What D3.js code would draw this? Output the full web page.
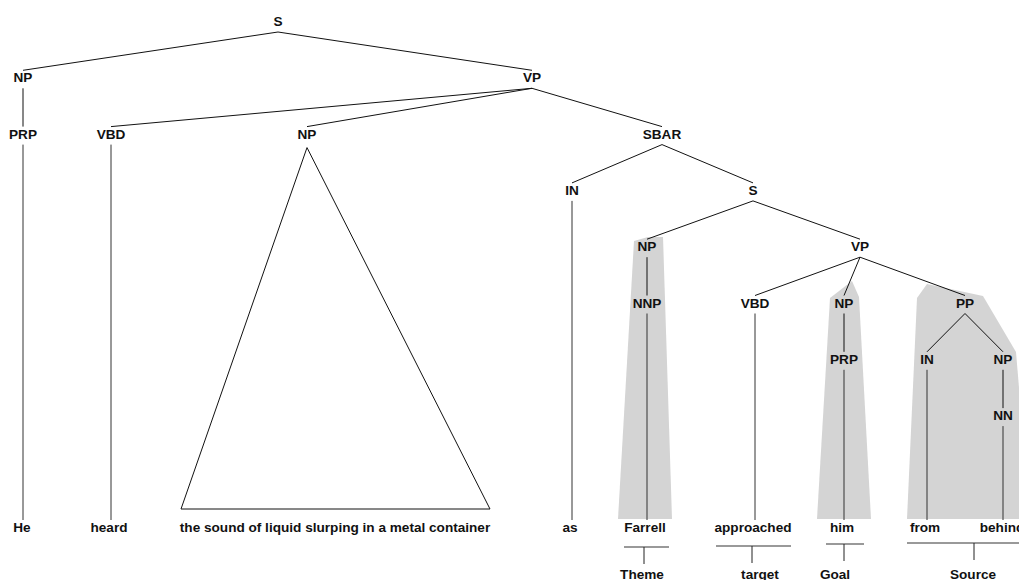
<!DOCTYPE html>
<html>
<head>
<meta charset="utf-8">
<script src="https://cdn.jsdelivr.net/npm/d3@7"></script>
<style>
  body { margin: 0; background: #fff; }
  text { font-family: "Liberation Sans", Arial, Helvetica, sans-serif; font-weight: bold; font-size: 13.6px; fill: #111; }
</style>
</head>
<body>
<script>
const WIDTH = 1019;
const HEIGHT = 580;

// tree nodes: id, label, parent, x position
const nodeIds    = ["s0","np1","vp1","prp1","vbd1","np2","sbar","in1","s2","np3","vp2","nnp","vbd2","np4","pp","prp2","in2","np5","nn"];
const nodeLabels = ["S","NP","VP","PRP","VBD","NP","SBAR","IN","S","NP","VP","NNP","VBD","NP","PP","PRP","IN","NP","NN"];
const nodeParent = ["","s0","s0","np1","vp1","vp1","vp1","sbar","sbar","s2","s2","np3","vp2","vp2","vp2","np4","pp","pp","np5"];
const nodeX      = [278,23,532,23,111,307,662,572,753,647,860,647,755,844,965,844,927,1003,1003];

// words at the bottom, hung from a preterminal (or from the collapsed NP)
const words      = ["He","heard","the sound of liquid slurping in a metal container","as","Farrell","approached","him","from","behind"];
const wordParent = ["prp1","vbd1","np2","in1","nnp","vbd2","prp2","in2","nn"];
const wordX      = [22,109,335,570,645,753,842,925,1002];
const collapsed  = ["np2"];
const triangleBase = [181,490];

// frame element roles under the words
const roles      = ["Theme","target","Goal","Source"];
const roleSpan   = [[624,669],[716,791],[826,864],[907,1019]];
const roleTick   = [644,752,844,974];
const roleTextX  = [642,760,835,973];
const roleLineY  = [547,546,544,543];

// grey highlighted constituents (outline points)
const shades = [
  [[634,241],[648,237],[663,237],[672,519],[618,519]],
  [[830,298],[852,281],[859,297],[871,519],[817,519]],
  [[907,519],[917,298],[927,284],[983,296],[1016,352],[1030,519]]
];

const yLevel = d3.scaleLinear().domain([0, 1]).range([21, 77.3]);
const LEAF_Y = 527;
const LEAF_LINE_END = 520;
const BASE_Y = 509;

const svg = d3.select("body").append("svg")
    .attr("width", WIDTH)
    .attr("height", HEIGHT);

const table = nodeIds.map((id, i) => ({id: id, label: nodeLabels[i], parent: nodeParent[i], x: nodeX[i]}));
const root = d3.stratify().id(d => d.id).parentId(d => d.parent || null)(table);
root.each(n => { n.px = n.data.x; n.py = yLevel(n.depth); });
const byId = new Map(root.descendants().map(n => [n.id, n]));

// shading
svg.append("g").selectAll("path")
    .data(shades)
    .join("path")
    .attr("d", d => d3.line()(d) + "Z")
    .attr("fill", "#d4d4d4");

// branches
const lines = svg.append("g").attr("stroke", "#111").attr("stroke-width", 1).attr("fill", "none");
lines.selectAll("line.branch")
    .data(root.links())
    .join("line")
    .attr("class", "branch")
    .attr("x1", d => d.source.px)
    .attr("y1", d => d.source.py + 11)
    .attr("x2", d => d.target.px)
    .attr("y2", d => d.target.py - 7);

// lines from preterminals down to words
const wordData = words.map((w, i) => ({word: w, node: byId.get(wordParent[i]), x: wordX[i]}));
lines.selectAll("line.leaf")
    .data(wordData.filter(d => !collapsed.includes(d.node.id)))
    .join("line")
    .attr("class", "leaf")
    .attr("stroke", "#333")
    .attr("x1", d => d.node.px)
    .attr("y1", d => d.node.py + 11)
    .attr("x2", d => d.node.px)
    .attr("y2", LEAF_LINE_END);

// collapsed phrase triangle
wordData.filter(d => collapsed.includes(d.node.id)).forEach(d => {
  lines.append("path")
      .attr("d", d3.line()([[d.node.px, d.node.py + 14], [triangleBase[0], BASE_Y], [triangleBase[1], BASE_Y], [d.node.px, d.node.py + 14]]) + "Z");
});

// node labels
svg.append("g").selectAll("text")
    .data(root.descendants())
    .join("text")
    .attr("x", d => d.px)
    .attr("y", d => d.py + 5)
    .attr("text-anchor", "middle")
    .text(d => d.data.label);

// words
svg.append("g").selectAll("text")
    .data(wordData)
    .join("text")
    .attr("x", d => d.x)
    .attr("y", LEAF_Y + 5)
    .attr("text-anchor", "middle")
    .text(d => d.word);

// role brackets
const rg = svg.append("g").attr("stroke", "#777").attr("stroke-width", 1.5);
rg.selectAll("line.span")
    .data(roles)
    .join("line")
    .attr("class", "span")
    .attr("x1", (d, i) => roleSpan[i][0])
    .attr("x2", (d, i) => roleSpan[i][1])
    .attr("y1", (d, i) => roleLineY[i])
    .attr("y2", (d, i) => roleLineY[i]);
rg.selectAll("line.tick")
    .data(roles)
    .join("line")
    .attr("class", "tick")
    .attr("stroke", "#222")
    .attr("stroke-width", 1)
    .attr("x1", (d, i) => roleTick[i])
    .attr("x2", (d, i) => roleTick[i])
    .attr("y1", (d, i) => roleLineY[i])
    .attr("y2", (d, i) => roleLineY[i] + 17);

svg.append("g").selectAll("text")
    .data(roles)
    .join("text")
    .attr("x", (d, i) => roleTextX[i])
    .attr("y", 579)
    .attr("text-anchor", "middle")
    .text(d => d);
</script>
</body>
</html>
